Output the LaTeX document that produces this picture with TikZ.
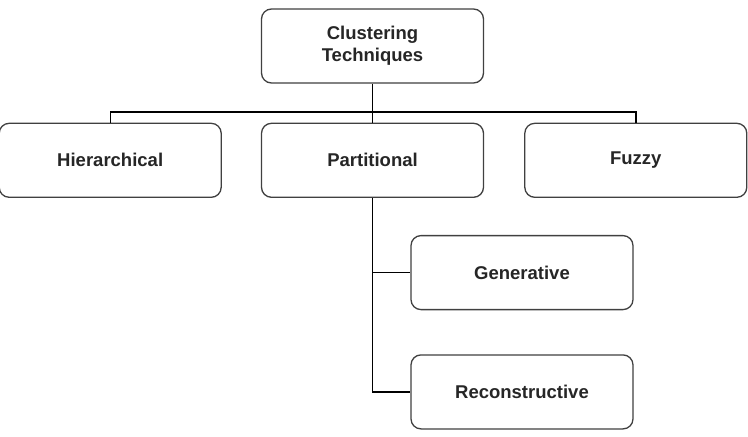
\documentclass[tikz,border=0pt]{standalone}
\usepackage{fontspec}
\setmainfont{Liberation Sans}
\usetikzlibrary{positioning}

\begin{document}
\begin{tikzpicture}[%
    x=1pt, y=1pt,               % work in pixels of the reference
    node distance=39pt and 39pt, % Global setup of box spacing
    ]
% -------------------------------------------------
% Box and connector styles
\tikzset{
  box/.style={draw=black!75, line width=1.3pt, rounded corners=10pt,
    fill=white, align=center, minimum width=222pt, minimum height=74pt,
    text=black!85, font=\bfseries\fontsize{18.5}{22}\selectfont},
  link/.style={draw, line width=1.4pt}
}
\useasboundingbox (0,0) rectangle (748,-437);
% -------------------------------------------------
% Start by placing the nodes
\node [box] (tech) at (372.5,-46) {Clustering\\Techniques};
\node [box, below=of tech] (part) {Partitional};
\node [box, left=of part] (hier) {Hierarchical};
\node [box, right=40pt of part] (fuzzy) {Fuzzy};
\node [box, below=37pt of part, xshift=149.5pt] (gen) {Generative};
\node [box, below=44pt of gen] (recon) {Reconstructive};

% Connectors from the top box to the first level
\draw [link] (tech.south) -- ++(0,-28.5) coordinate (bus);
\draw [link] (hier.north) |- (bus) -| (fuzzy.north);
\draw [link] (bus) -- (part.north);

% Partitional splits into two kinds
\draw [link] (part.south) |- (gen.west);
\draw [link] (part.south) |- (recon.west);
% -------------------------------------------------
\end{tikzpicture}
\end{document}
